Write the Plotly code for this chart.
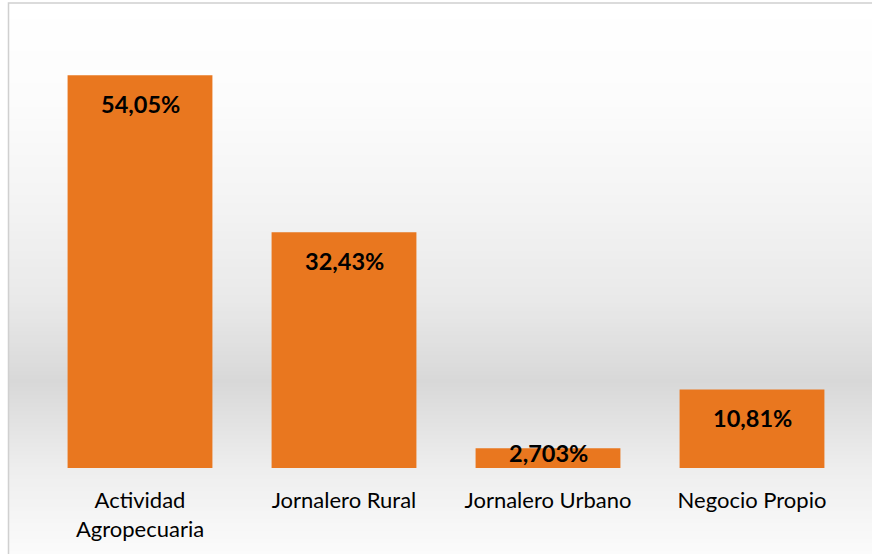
import plotly.graph_objects as go

categories = ["Actividad<br>Agropecuaria", "Jornalero Rural", "Jornalero Urbano", "Negocio Propio"]
values = [54.05, 32.43, 2.703, 10.81]
value_labels = ["54,05%", "32,43%", "2,703%", "10,81%"]

W, H = 872, 554
ML, MR, MT, MB = 38, 18, 32, 86
PH = H - MT - MB
PW = W - ML - MR


def py2paper(py):
    return (H - MB - py) / PH


def px2paper(px):
    return (px - ML) / PW


# background gradient stops (pixel y, gray level)
stops = [(3, 255), (100, 252), (200, 244), (300, 233), (383, 216), (430, 228), (470, 238), (554, 251)]


def gray_at(y):
    for (y0, g0), (y1, g1) in zip(stops[:-1], stops[1:]):
        if y0 <= y <= y1:
            t = (y - y0) / (y1 - y0)
            return g0 + (g1 - g0) * t
    return stops[-1][1]


shapes = []
step = 4
y = 3
while y < H:
    g = int(round(gray_at(y + step / 2)))
    shapes.append(dict(type="rect", xref="paper", yref="paper", layer="below",
                       x0=px2paper(9), x1=px2paper(W + 2),
                       y0=py2paper(y), y1=py2paper(min(y + step + 0.5, H + 2)),
                       fillcolor=f"rgb({g},{g},{g})", line=dict(width=0)))
    y += step
# frame border
shapes.append(dict(type="rect", xref="paper", yref="paper", layer="below",
                   x0=px2paper(8.5), x1=px2paper(W + 5), y0=py2paper(3), y1=py2paper(H + 5),
                   fillcolor="rgba(0,0,0,0)", line=dict(color="#d0d0d0", width=1.5)))

fig = go.Figure()
fig.add_trace(go.Bar(
    x=categories, y=values,
    marker=dict(color="#e9771f", line=dict(width=0)),
    hoverinfo="skip",
))

annotations = []
for c, v, t in zip(categories, values, value_labels):
    shift = -29 if v > 5 else -5
    annotations.append(dict(x=c, y=v, xref="x", yref="y", text=f"<b>{t}</b>",
                            showarrow=False, yanchor="middle", yshift=shift,
                            font=dict(family="Lato", size=23.5, color="#000000")))

fig.update_layout(
    width=W, height=H,
    margin=dict(l=ML, r=MR, t=MT, b=MB),
    paper_bgcolor="white",
    plot_bgcolor="rgba(0,0,0,0)",
    bargap=0.29,
    showlegend=False,
    shapes=shapes,
    annotations=annotations,
    xaxis=dict(range=[-0.5, 3.5], showgrid=False, zeroline=False, showline=False,
               ticks="outside", ticklen=13, tickcolor="rgba(0,0,0,0)",
               tickfont=dict(family="Lato", size=22, color="#000000")),
    yaxis=dict(range=[0, 60], visible=False, showgrid=False, zeroline=False),
)

fig.write_html("out.html", config={"displayModeBar": False},
               post_script="document.body.style.margin='0';document.body.style.overflow='hidden';")
